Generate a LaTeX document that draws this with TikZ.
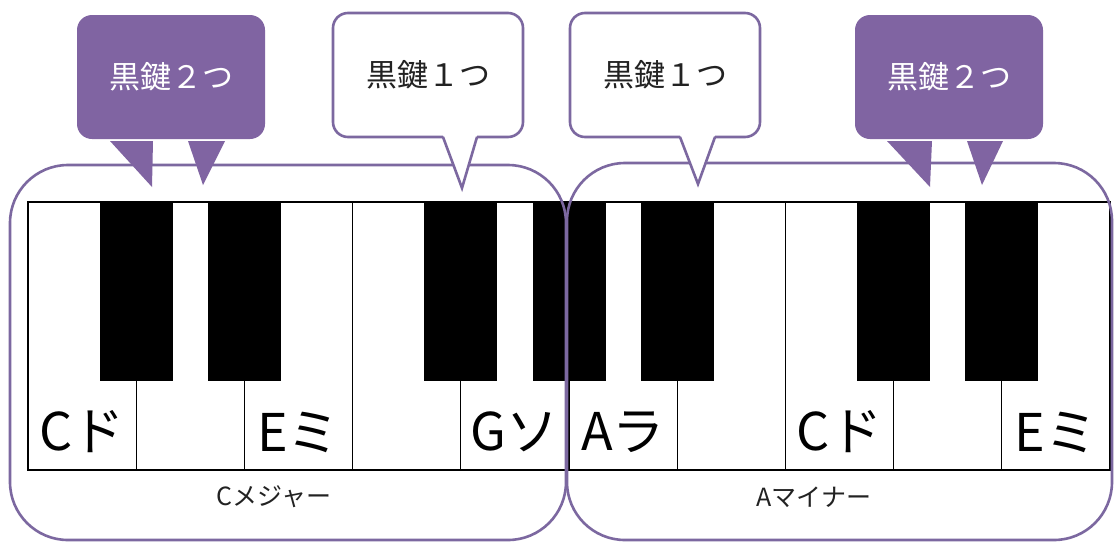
\documentclass[tikz,border=0pt]{standalone}
\usepackage{fontspec}
\setmainfont{Noto Sans CJK JP}
\usetikzlibrary{calc}
\definecolor{accent}{HTML}{8064A2}
\definecolor{frame}{HTML}{7C68A0}
\definecolor{ink}{HTML}{222222}
\tikzset{
  whitekey/.style={draw=black, line width=1.2pt, fill=white, minimum width=108.2pt,
    minimum height=268pt, inner sep=0pt, outer sep=0pt, anchor=north west},
  blackkey/.style={fill=black, minimum width=73pt, minimum height=179pt,
    inner sep=0pt, outer sep=0pt, anchor=north},
  notename/.style={font=\fontsize{52}{60}\selectfont, text=black, inner sep=0pt},
  groupbox/.style={draw=frame, line width=2.6pt, rounded corners=58pt,
    inner sep=0pt, outer sep=0pt, anchor=north west},
  groupname/.style={font=\fontsize{25}{29}\selectfont, text=ink, inner sep=0pt},
  darkcallout/.style={fill=accent, rounded corners=15pt, minimum width=188pt,
    minimum height=124pt, inner sep=0pt, outer sep=0pt, text=white,
    font=\fontsize{31}{34}\selectfont},
  lightcallout/.style={draw=frame, line width=2.6pt, fill=white, rounded corners=15pt,
    minimum width=190pt, minimum height=124pt, inner sep=0pt, outer sep=0pt,
    text=ink, font=\fontsize{31}{34}\selectfont},
  darktip/.style={fill=accent},
  lighttip/.style={draw=frame, line width=2.6pt, line join=miter},
}
\begin{document}
\begin{tikzpicture}[x=1pt,y=-1pt]
\useasboundingbox (0,0) rectangle (1114,542);
\fill[white] (0,0) rectangle (1114,542);

% white keys C D E F G A B C D E
\foreach \i in {0,...,9}
  \node[whitekey] (w\i) at ({28+108.2*\i},202) {};
% black keys sit on the boundaries between white keys
\foreach \i in {0,1,3,4,5,7,8}
  \node[blackkey] (b\i) at (w\i.north east) {};

% note names
\node[notename] (n0) at ($(w0.south)+(0,-38)$) {Cド};
\node[notename] (n2) at ($(w2.south)+(0,-38)$) {Eミ};
\node[notename] (n4) at ($(w4.south)+(0,-38)$) {Gソ};
\node[notename] (n5) at ($(w5.south)+(0,-38)$) {Aラ};
\node[notename] (n7) at ($(w7.south)+(0,-38)$) {Cド};
\node[notename] (n9) at ($(w9.south)+(0,-38)$) {Eミ};

% the two key groups
\node[groupbox, minimum width=556pt, minimum height=375pt] (cmaj) at (10,165) {};
\node[groupbox, minimum width=545pt, minimum height=377pt] (amin) at (567,163) {};
\node[groupname] (cmajname) at (274,497) {Cメジャー};
\node[groupname] (aminname) at (814,497) {Aマイナー};

% callouts
\coordinate (k1a) at (152,187);
\coordinate (k1b) at (203,185);
\coordinate (k2a) at (462,188);
\coordinate (k3a) at (698,184);
\coordinate (k4a) at (930,187);
\coordinate (k4b) at (982,185);

\node[darkcallout] (k1) at (171,77) {黒鍵２つ};
\fill[darktip] ($(k1.south west)+(33,2)$) -- (k1a) -- ($(k1.south west)+(76,2)$) -- cycle;
\fill[darktip] ($(k1.south west)+(111,2)$) -- (k1b) -- ($(k1.south west)+(148,2)$) -- cycle;

\node[darkcallout] (k4) at (949,77) {黒鍵２つ};
\fill[darktip] ($(k4.south west)+(32,2)$) -- (k4a) -- ($(k4.south west)+(77,2)$) -- cycle;
\fill[darktip] ($(k4.south west)+(112,2)$) -- (k4b) -- ($(k4.south west)+(148,2)$) -- cycle;

\node[lightcallout] (k2) at (428,75) {黒鍵１つ};
\fill[white] ($(k2.south west)+(110,-2)$) -- (k2a) -- ($(k2.south west)+(144,-2)$) -- cycle;
\draw[lighttip] ($(k2.south west)+(110,0)$) -- (k2a) -- ($(k2.south west)+(144,0)$);

\node[lightcallout] (k3) at (665,75) {黒鍵１つ};
\fill[white] ($(k3.south west)+(110,-2)$) -- (k3a) -- ($(k3.south west)+(145,-2)$) -- cycle;
\draw[lighttip] ($(k3.south west)+(110,0)$) -- (k3a) -- ($(k3.south west)+(145,0)$);
\end{tikzpicture}
\end{document}
